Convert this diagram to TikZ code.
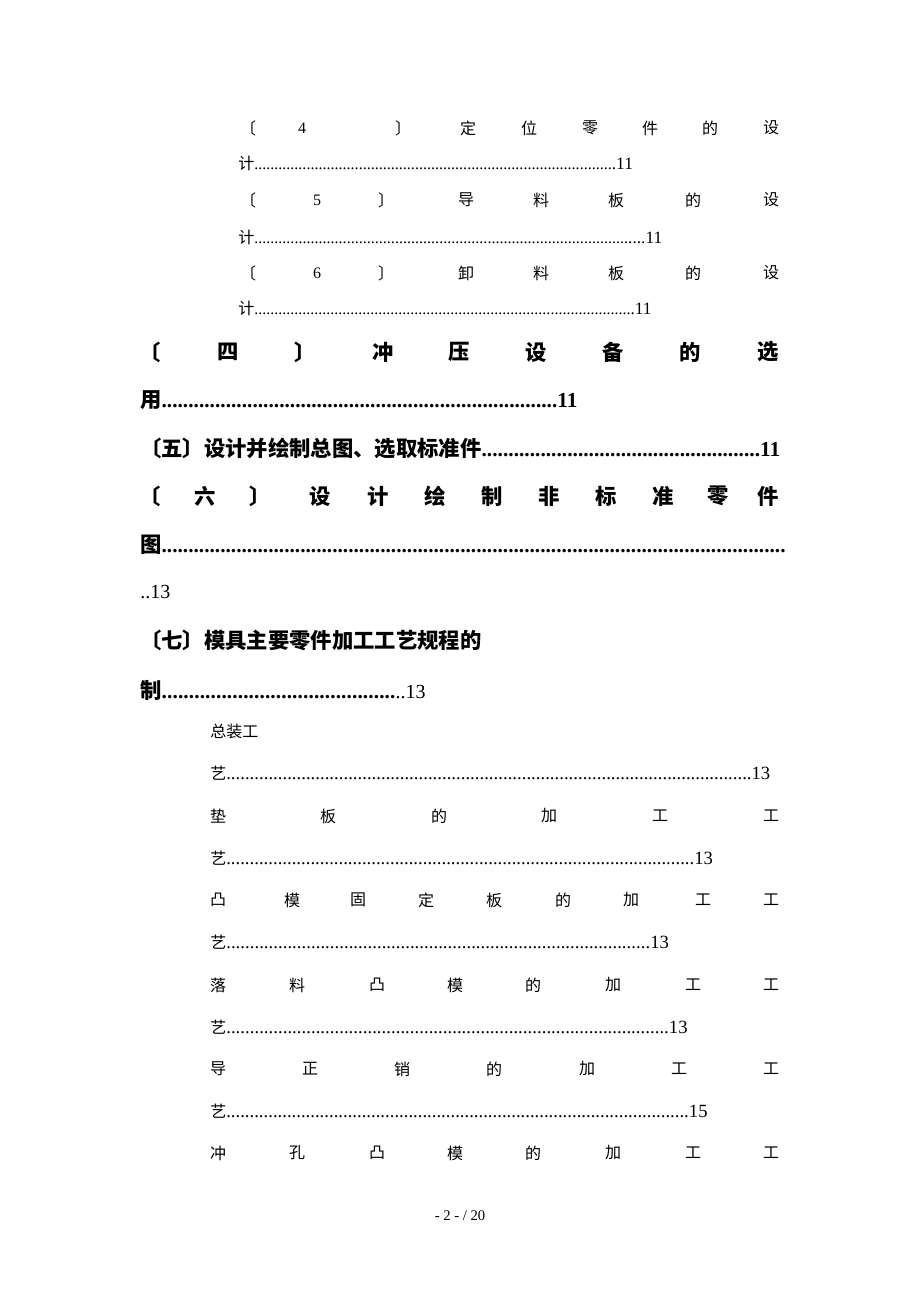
\documentclass[tikz,border=0pt]{standalone}
\usepackage{fontspec}
\setmainfont{Liberation Serif}
\newfontfamily\cjk{Noto Sans CJK SC}
\newcommand{\ldr}[3]{\hbox to #3pt{{#1}\xleaders\hbox{.}\hfill{#2}}}
\tikzset{sm/.style={font=\fontsize{12}{12}\selectfont,inner sep=0pt},
 bg/.style={font=\fontsize{16}{16}\selectfont\bfseries,inner sep=0pt}}
\newcommand{\spread}[4]{\foreach \t/\xx in {#4}{\node[#1] at (\xx,#2) {#3\t};}}
\begin{document}
\begin{tikzpicture}[x=0.75pt,y=-0.75pt]
\useasboundingbox[fill=white] (0,0) rectangle (920,1302);
\spread{sm}{128}{\cjk}{〔/248,{\rmfamily 4}/302,〕/403,定/468,位/529,零/590,件/650,的/710,设/771}
\node[sm,anchor=west] (l1) at (238,163) {\ldr{\cjk 计}{\fontsize{13}{13}\selectfont .11}{296}};
\spread{sm}{200}{\cjk}{〔/248,{\rmfamily 5}/317,〕/386,导/466,料/541,板/616,的/693,设/771}
\node[sm,anchor=west] (l2) at (238,237) {\ldr{\cjk 计}{\fontsize{13}{13}\selectfont ....11}{318}};
\spread{sm}{273}{\cjk}{〔/248,{\rmfamily 6}/317,〕/386,卸/466,料/541,板/616,的/693,设/771}
\node[sm,anchor=west] (l3) at (238,308) {\ldr{\cjk 计}{\fontsize{13}{13}\selectfont .11}{310}};
\spread{bg}{352}{\cjk}{〔/150,四/228,〕/305,冲/383,压/459,设/536,备/613,的/690,选/768}
\node[bg,anchor=west] (l4) at (140,400) {\ldr{\cjk 用}{11}{328}};
\node[bg,anchor=west] (l5) at (140,448) {\ldr{\cjk 〔五〕设计并绘制总图、选取标准件}{11}{480}};
\spread{bg}{496}{\cjk}{〔/150,六/205,〕/260,设/320,计/378,绘/435,制/492,非/549,标/606,准/663,零/718,件/768}
\node[bg,anchor=west] (l6) at (140,545) {\ldr{\cjk 图}{}{484}};
\node[anchor=west,inner sep=0pt,font=\fontsize{15}{15}\selectfont] (l7) at (140,592) {..13};
\node[bg,anchor=west] (l8) at (140,640) {\cjk 〔七〕模具主要零件加工工艺规程的};
\node[bg,anchor=west] (l9) at (140,690) {\ldr{\cjk 制}{\mdseries\fontsize{15}{15}\selectfont..13}{214}};
\node[sm,anchor=west] (l10) at (210,731) {\cjk 总装工};
\node[sm,anchor=west,font=\fontsize{14}{14}\selectfont] (l11) at (210,773) {\ldr{\cjk\fontsize{12}{12}\selectfont 艺}{....13}{420}};
\spread{sm}{816}{\cjk}{垫/218,板/328,的/439,加/549,工/660,工/771}
\node[sm,anchor=west,font=\fontsize{14}{14}\selectfont] (l12) at (210,858) {\ldr{\cjk\fontsize{12}{12}\selectfont 艺}{....13}{377}};
\spread{sm}{900}{\cjk}{凸/218,模/292,固/358,定/426,板/494,的/563,加/631,工/703,工/771}
\node[sm,anchor=west,font=\fontsize{14}{14}\selectfont] (l13) at (210,942) {\ldr{\cjk\fontsize{12}{12}\selectfont 艺}{13}{344}};
\spread{sm}{985}{\cjk}{落/218,料/297,凸/377,模/455,的/533,加/613,工/693,工/771}
\node[sm,anchor=west,font=\fontsize{14}{14}\selectfont] (l14) at (210,1027) {\ldr{\cjk\fontsize{12}{12}\selectfont 艺}{13}{358}};
\spread{sm}{1069}{\cjk}{导/218,正/310,销/402,的/494,加/587,工/679,工/771}
\node[sm,anchor=west,font=\fontsize{14}{14}\selectfont] (l15) at (210,1111) {\ldr{\cjk\fontsize{12}{12}\selectfont 艺}{15}{373}};
\spread{sm}{1153}{\cjk}{冲/218,孔/297,凸/377,模/455,的/533,加/613,工/693,工/771}
\node[font=\fontsize{11}{11}\selectfont,inner sep=0pt] (pg) at (460,1216) {- 2 - / 20};
\end{tikzpicture}
\end{document}
